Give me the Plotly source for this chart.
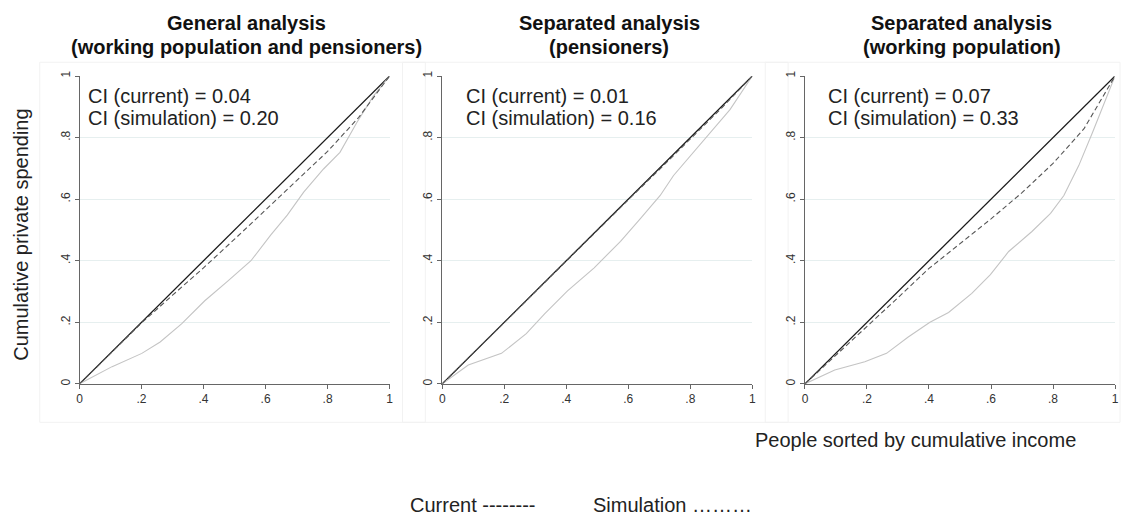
import plotly.graph_objects as go

# Population shares (x) and cumulative private spending (y) for each panel
eq_x = [0, 1]
eq_y = [0, 1]

gen_cur_x = [0, .1, .2, .3, .4, .5, .6, .7, .8, .9, 1]
gen_cur_y = [0, .1, .198, .288, .377, .47, .566, .66, .755, .865, 1]
gen_sim_x = [0, .105, .201, .26, .329, .404, .478, .553, .617, .67, .723, .787, .84, .894, .947, 1]
gen_sim_y = [0, .056, .099, .136, .195, .27, .334, .4, .484, .548, .623, .698, .752, .848, .934, 1]

pen_cur_x = [0, .1, .2, .3, .4, .5, .6, .7, .8, .9, 1]
pen_cur_y = [0, .1, .2, .3, .4, .5, .598, .696, .795, .895, 1]
pen_sim_x = [0, .084, .191, .271, .33, .404, .49, .575, .639, .703, .746, .8, .864, .928, 1]
pen_sim_y = [0, .061, .099, .163, .227, .302, .377, .463, .537, .612, .677, .741, .816, .891, 1]

wrk_cur_x = [0, .1, .2, .3, .4, .5, .6, .7, .8, .9, 1]
wrk_cur_y = [0, .093, .184, .28, .375, .455, .536, .621, .716, .829, 1]
wrk_sim_x = [0, .096, .193, .263, .333, .403, .463, .538, .598, .657, .732, .792, .835, .883, .927, .97, 1]
wrk_sim_y = [0, .045, .072, .099, .152, .2, .232, .294, .355, .43, .495, .554, .612, .709, .816, .923, 1]

title_line1 = ["General analysis", "Separated analysis", "Separated analysis"]
title_line2 = ["(working population and pensioners)", "(pensioners)", "(working population)"]
ci_current = ["0.04", "0.01", "0.07"]
ci_simulation = ["0.20", "0.16", "0.33"]

tick_vals = [0, .2, .4, .6, .8, 1]
tick_text = ["0", ".2", ".4", ".6", ".8", "1"]

W, H = 1125, 523
FONT = "Arial, Liberation Sans, Helvetica, sans-serif"
TXT = 20

# pixel boxes of each plotting area: (left, right), top/bottom shared
x_px = [(77, 389), (442, 754), (807, 1119)]
y_top, y_bot = 72, 384
title_cx = [245, 610, 965]
ci_left = [84, 464, 828]


def px_x(v):
    return v / W


def px_y(v):
    return 1 - v / H


panels = [
    (gen_cur_x, gen_cur_y, gen_sim_x, gen_sim_y),
    (pen_cur_x, pen_cur_y, pen_sim_x, pen_sim_y),
    (wrk_cur_x, wrk_cur_y, wrk_sim_x, wrk_sim_y),
]

fig = go.Figure()
layout = dict(
    width=W, height=H,
    margin=dict(l=0, r=0, t=0, b=0),
    paper_bgcolor="white", plot_bgcolor="white",
    showlegend=False,
    font=dict(family=FONT, color="#222"),
    annotations=[], shapes=[],
)


def note(text, x, y, size=TXT, anchor="center", angle=0, color="#222"):
    layout["annotations"].append(dict(
        text=text, xref="paper", yref="paper", x=px_x(x), y=px_y(y),
        xanchor=anchor, yanchor="middle", textangle=angle, showarrow=False,
        font=dict(size=size, color=color)))


for i, (cx, cy, sx, sy) in enumerate(panels):
    n = "" if i == 0 else str(i + 1)
    xa, ya = "x" + n, "y" + n
    fig.add_trace(go.Scatter(x=eq_x, y=eq_y, mode="lines", xaxis=xa, yaxis=ya,
                             line=dict(color="#1a1a1a", width=1.3)))
    fig.add_trace(go.Scatter(x=sx, y=sy, mode="lines", xaxis=xa, yaxis=ya,
                             line=dict(color="#c4c4c4", width=1.1)))
    fig.add_trace(go.Scatter(x=cx, y=cy, mode="lines", xaxis=xa, yaxis=ya,
                             line=dict(color="#555555", width=1.1, dash="5px,3px")))

    l, r = x_px[i]
    layout["xaxis" + n] = dict(
        domain=[px_x(l), px_x(r)], range=[0, 1], anchor=ya,
        tickvals=tick_vals, ticktext=tick_text, ticks="outside", ticklen=4,
        tickcolor="#666", tickfont=dict(size=12, color="#333"),
        showline=True, linecolor="#666", linewidth=1,
        showgrid=False, zeroline=False, fixedrange=True,
    )
    layout["yaxis" + n] = dict(
        domain=[px_y(y_bot), px_y(y_top)], range=[0, 1], anchor=xa,
        tickvals=tick_vals, ticktext=tick_text, ticks="outside", ticklen=4,
        tickcolor="#666", tickfont=dict(size=12, color="#333"), tickangle=-90,
        showline=True, linecolor="#666", linewidth=1,
        showgrid=True, gridcolor="#e6efef", gridwidth=1,
        zeroline=False, fixedrange=True,
    )

    # faint outer frame around each panel
    layout["shapes"].append(dict(
        type="rect", xref="paper", yref="paper",
        x0=px_x(l - 40), x1=px_x(min(r + 36, W - 1)),
        y0=px_y(423), y1=px_y(58),
        line=dict(color="#f2f2f2", width=1), layer="below"))

    note(f"<b>{title_line1[i]}</b>", title_cx[i], 18, color="#111")
    note(f"<b>{title_line2[i]}</b>", title_cx[i], 43, color="#111")
    note(f"CI (current) = {ci_current[i]}", ci_left[i], 92, anchor="left")
    note(f"CI (simulation) = {ci_simulation[i]}", ci_left[i], 115, anchor="left")

note("Cumulative private spending", 18, 233, angle=-90)
note("People sorted by cumulative income", 918, 441)
note("Current --------", 408, 507, anchor="left")
note("Simulation \u2026\u2026\u2026", 592, 507, anchor="left")

fig.update_layout(**layout)
fig.write_html("out.html")
